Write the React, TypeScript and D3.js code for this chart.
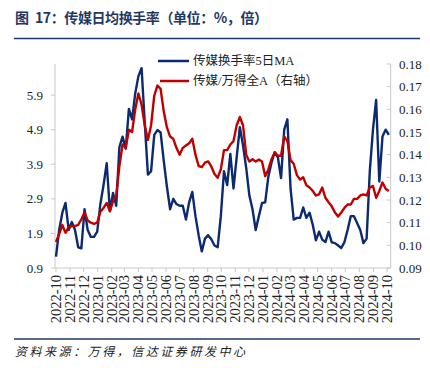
import React from "react";
import * as d3 from "d3";

const titleHead = "图";
const titleText = "17：传媒日均换手率（单位：%，倍）";
const sourceText = "资料来源：万得，信达证券研发中心";
const seriesNames = ["传媒换手率5日MA", "传媒/万得全A（右轴）"];

const monthLabels = [
  "2022-10", "2022-11", "2022-12", "2023-01", "2023-02", "2023-03", "2023-04",
  "2023-05", "2023-06", "2023-07", "2023-08", "2023-09", "2023-10", "2023-11",
  "2023-12", "2024-01", "2024-02", "2024-03", "2024-04", "2024-05", "2024-06",
  "2024-07", "2024-08", "2024-09", "2024-10",
];

const leftTicks = [0.9, 1.9, 2.9, 3.9, 4.9, 5.9];
const rightTicks = [0.09, 0.1, 0.11, 0.12, 0.13, 0.14, 0.15, 0.16, 0.17, 0.18];

// weekly observations starting 2022-10-01
const firstWeek = "2022-10-01";

const turnover = [
  1.23, 2.0, 2.5, 2.78, 2.0, 2.23, 2.0, 1.5, 1.47, 2.6,
  2.0, 1.8, 1.8, 1.95, 2.75, 3.3, 3.93, 2.55, 3.07, 2.7,
  4.4, 4.7, 4.35, 5.5, 5.2, 5.95, 6.45, 6.68, 5.1, 3.6,
  3.7, 4.75, 4.89, 4.82, 4.0, 3.25, 2.6, 2.9, 2.75, 2.7,
  2.7, 2.3, 2.8, 3.1, 2.4, 1.85, 1.38, 1.75, 1.85, 1.73,
  1.55, 1.5, 2.4, 3.7, 3.3, 4.2, 3.2, 4.1, 4.97, 4.45,
  3.8, 3.0, 2.6, 2.0, 2.4, 2.78, 2.8, 3.55, 3.95, 4.25,
  4.1, 3.5, 4.9, 5.2, 3.2, 2.3, 2.35, 2.35, 2.65, 2.35,
  2.5, 2.15, 1.7, 1.95, 1.72, 1.65, 1.95, 1.64, 1.62, 1.55,
  1.48, 1.65, 2.0, 2.4, 2.4, 2.2, 2.0, 1.62, 1.75, 3.7,
  4.9, 5.76, 3.4, 4.7, 4.9, 4.75,
];

const relative = [
  0.1015, 0.105, 0.109, 0.1055, 0.108, 0.1085, 0.1085, 0.109, 0.1115, 0.1145,
  0.111, 0.11, 0.1095, 0.11, 0.1148, 0.1165, 0.1187, 0.115, 0.1195, 0.122,
  0.135, 0.1445, 0.143, 0.151, 0.15, 0.16, 0.167, 0.162, 0.153, 0.1465,
  0.153, 0.166, 0.1705, 0.169, 0.159, 0.152, 0.148, 0.147, 0.143, 0.14,
  0.143, 0.144, 0.145, 0.147, 0.14, 0.135, 0.1345, 0.1365, 0.137, 0.1348,
  0.1315, 0.1298, 0.1335, 0.142, 0.142, 0.1445, 0.146, 0.153, 0.1566, 0.153,
  0.14, 0.137, 0.138, 0.137, 0.1378, 0.137, 0.1305, 0.1335, 0.138, 0.141,
  0.1395, 0.1395, 0.148, 0.146, 0.1376, 0.136, 0.131, 0.129, 0.13, 0.1265,
  0.1255, 0.124, 0.122, 0.1225, 0.1255, 0.121, 0.119, 0.1172, 0.1145, 0.1127,
  0.1145, 0.1165, 0.118, 0.118, 0.1205, 0.1205, 0.122, 0.1225, 0.122, 0.1255,
  0.1262, 0.121, 0.124, 0.1277, 0.125, 0.124,
];

const BLUE = "#0b2a6f";
const RED = "#c00000";
const AXIS = "#c8c8c8";
const NAVY = "#1f3864";
const LATIN = "'Liberation Serif', 'Noto Sans CJK SC', serif";

export default function App() {
  const W = 430;
  const H = 368;
  const parse = d3.timeParse("%Y-%m-%d");
  const parseMonth = d3.timeParse("%Y-%m");
  const start = parse(firstWeek) as Date;
  const dates = turnover.map((_, i) => d3.timeDay.offset(start, 7 * i));
  const months = monthLabels.map((m) => parseMonth(m) as Date);

  const plotTop = 64;
  const plotBottom = 268;
  const axisLeft = 55;
  const axisRight = 390.7;

  const x = d3
    .scaleTime()
    .domain([months[0], months[months.length - 1]])
    .range([56, 387]);
  const yL = d3.scaleLinear().domain([0.9, 6.8]).range([plotBottom, plotTop]);
  const yR = d3.scaleLinear().domain([0.09, 0.18]).range([plotBottom, plotTop]);

  const lineL = d3
    .line<number>()
    .x((_, i) => x(dates[i]))
    .y((d) => yL(d));
  const lineR = d3
    .line<number>()
    .x((_, i) => x(dates[i]))
    .y((d) => yR(d));

  return (
    <svg
      width={W}
      height={H}
      style={{ position: "absolute", left: 0, top: 0, background: "#fff" }}
    >
      {/* title */}
      <text
        x={15}
        y={23}
        fontFamily="'Noto Sans CJK SC', sans-serif"
        fontWeight="bold"
        fontSize={14}
        fill={NAVY}
      >
        {titleHead}
      </text>
      <text
        x={35}
        y={23}
        fontFamily="'Noto Sans CJK SC', sans-serif"
        fontWeight="bold"
        fontSize={14}
        fill={NAVY}
        textLength={233}
        lengthAdjust="spacing"
      >
        {titleText}
      </text>
      <line x1={14} x2={420} y1={38.5} y2={38.5} stroke={NAVY} strokeWidth={1.5} />

      {/* axes */}
      <line x1={axisLeft} x2={axisLeft} y1={plotTop} y2={plotBottom} stroke={AXIS} />
      <line x1={axisRight} x2={axisRight} y1={plotTop} y2={plotBottom} stroke={AXIS} />
      <line x1={axisLeft} x2={axisRight} y1={plotBottom} y2={plotBottom} stroke={AXIS} />

      {leftTicks.map((t) => (
        <g key={"l" + t}>
          <line x1={axisLeft - 4} x2={axisLeft} y1={yL(t)} y2={yL(t)} stroke={AXIS} />
          <text
            x={43}
            y={yL(t)}
            dy="0.35em"
            textAnchor="end"
            fontFamily={LATIN}
            fontSize={13}
            fill="#222"
          >
            {d3.format(".1f")(t)}
          </text>
        </g>
      ))}

      {rightTicks.map((t) => (
        <g key={"r" + t}>
          <line x1={axisRight - 4} x2={axisRight} y1={yR(t)} y2={yR(t)} stroke={AXIS} />
          <text
            x={399}
            y={yR(t)}
            dy="0.35em"
            textAnchor="start"
            fontFamily={LATIN}
            fontSize={13}
            fill="#222"
          >
            {d3.format(".2f")(t)}
          </text>
        </g>
      ))}

      {months.map((m, i) => (
        <g key={"m" + i}>
          <line x1={x(m)} x2={x(m)} y1={plotBottom} y2={plotBottom + 4} stroke={AXIS} />
          <text
            transform={`translate(${x(m)},${plotBottom + 7}) rotate(-90)`}
            dy="0.35em"
            textAnchor="end"
            fontFamily={LATIN}
            fontSize={14.5}
            fill="#222"
          >
            {monthLabels[i]}
          </text>
        </g>
      ))}

      {/* series */}
      <path d={lineL(turnover) || ""} fill="none" stroke={BLUE} strokeWidth={2.4} strokeLinejoin="round" />
      <path d={lineR(relative) || ""} fill="none" stroke={RED} strokeWidth={2.4} strokeLinejoin="round" />

      {/* legend */}
      <line x1={158} x2={189} y1={61} y2={61} stroke={BLUE} strokeWidth={2.5} />
      <text x={193} y={61} dy="0.35em" fontFamily={LATIN} fontSize={12.5} fill="#222">
        {seriesNames[0]}
      </text>
      <line x1={160} x2={189} y1={81} y2={81} stroke={RED} strokeWidth={2.5} />
      <text x={193} y={81} dy="0.35em" fontFamily={LATIN} fontSize={12.5} fill="#222">
        {seriesNames[1]}
      </text>

      {/* footer */}
      <line x1={14} x2={420} y1={339} y2={339} stroke={NAVY} strokeWidth={1.5} />
      <text
        x={15}
        y={356}
        fontFamily="'Noto Sans CJK SC', sans-serif"
        fontStyle="italic"
        fontSize={12}
        fill="#222"
        textLength={230}
        lengthAdjust="spacing"
      >
        {sourceText}
      </text>
    </svg>
  );
}
